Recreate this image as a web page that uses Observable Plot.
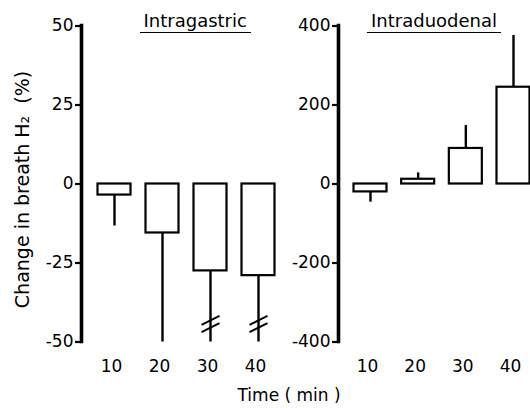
<!DOCTYPE html>
<html>
<head>
<meta charset="utf-8">
<script src="https://cdn.jsdelivr.net/npm/d3@7"></script>
<script src="https://cdn.jsdelivr.net/npm/@observablehq/plot@0.6"></script>
<style>
  html, body { margin: 0; padding: 0; background: white; }
  #chart { position: relative; width: 530px; height: 408px; background: white; font-family: "DejaVu Sans", sans-serif; color: black; overflow: hidden; }
  #chart svg { position: absolute; left: 0; top: 0; }
  .ttl { position: absolute; font-size: 18px; line-height: 18px; white-space: nowrap; text-align: center; border-bottom: 1.6px solid black; padding: 0 4px 2px 4px; }
  .xl { position: absolute; font-size: 17px; line-height: 17px; white-space: nowrap; text-align: center; }
</style>
</head>
<body>
<div id="chart"></div>
<script>
// ---- data ----
const times = [10, 20, 30, 40];
const gastricMean = [-3.5, -15.5, -27.5, -29];
const gastricErr = [-13.3, -50, -50, -50];
const gastricBroken = [false, false, true, true];
const gastricBreakAt = -44.3;
const gastricTicks = [50, 25, 0, -25, -50];

const duodenalMean = [-20, 12, 90, 245];
const duodenalErr = [-46, 28, 148, 376];
const duodenalBroken = [false, false, false, false];
const duodenalTicks = [400, 200, 0, -200, -400];

const yLabel = "Change in breath H₂  (%)";
const xLabel = "Time ( min )";

const chart = document.getElementById("chart");

function panel({means, errs, broken, breakAt, ticks, yDomain, xRange, axisLeft, withYLabel}) {
  const rows = times.map((t, i) => ({t, mean: means[i], err: errs[i], broken: broken[i]}));
  const pxPerX = (xRange[1] - xRange[0]) / (times[3] - times[0]);
  const pxPerY = 316 / (yDomain[1] - yDomain[0]);
  const half = 16.5 / pxPerX;
  const breaks = rows.filter(d => d.broken).flatMap(d => [-1, 1].map(k => ({
    t: d.t, yc: breakAt + k * 3.6 / pxPerY
  })));
  const marks = [
    Plot.rect(rows, {x1: d => d.t - half, x2: d => d.t + half, y1: d => 0, y2: "mean", fill: "white", stroke: "black", strokeWidth: 2.2}),
    Plot.ruleX(rows, {x: "t", y1: "mean", y2: "err", stroke: "black", strokeWidth: 2.4}),
    Plot.link(breaks, {x1: d => d.t - 9 / pxPerX, x2: d => d.t + 9 / pxPerX, y1: d => d.yc - 4.5 / pxPerY, y2: d => d.yc + 4.5 / pxPerY, stroke: "black", strokeWidth: 2}),
    Plot.axisY({ticks, tickSize: 6, tickPadding: 2, fontSize: 17, strokeWidth: 2.2, tickFormat: d => String(d), label: null}),
    Plot.axisX({ticks: times, tickSize: 0, tickPadding: 18, dx: -3, fontSize: 17, tickFormat: d => String(d), label: null}),
    Plot.frame({anchor: "left", strokeWidth: 3.6})
  ];
  if (withYLabel) {
    marks.push(Plot.text([yLabel], {text: d => d, frameAnchor: "left", textAnchor: "middle", rotate: -90, dx: -59, dy: 6, fontSize: 19}));
  }
  return Plot.plot({
    width: 530, height: 408,
    marginLeft: axisLeft, marginRight: 0, marginTop: 25, marginBottom: 67,
    x: {domain: [times[0], times[3]], range: xRange},
    y: {domain: yDomain, range: [341.5, 25.5]},
    style: {background: "transparent", fontFamily: "DejaVu Sans", overflow: "visible", color: "black"},
    marks
  });
}

chart.appendChild(panel({means: gastricMean, errs: gastricErr, broken: gastricBroken, breakAt: gastricBreakAt,
  ticks: gastricTicks, yDomain: [-50, 50], xRange: [114, 258], axisLeft: 81, withYLabel: true}));
chart.appendChild(panel({means: duodenalMean, errs: duodenalErr, broken: duodenalBroken, breakAt: 0,
  ticks: duodenalTicks, yDomain: [-400, 400], xRange: [370, 513], axisLeft: 338, withYLabel: false}));

function addDiv(cls, text, cx, top) {
  const el = document.createElement("div");
  el.className = cls;
  el.textContent = text;
  el.style.top = top + "px";
  chart.appendChild(el);
  el.style.left = (cx - el.offsetWidth / 2) + "px";
}
addDiv("ttl", "Intragastric", 195, 12);
addDiv("ttl", "Intraduodenal", 434, 12);
addDiv("xl", xLabel, 289, 387);
</script>
</body>
</html>
